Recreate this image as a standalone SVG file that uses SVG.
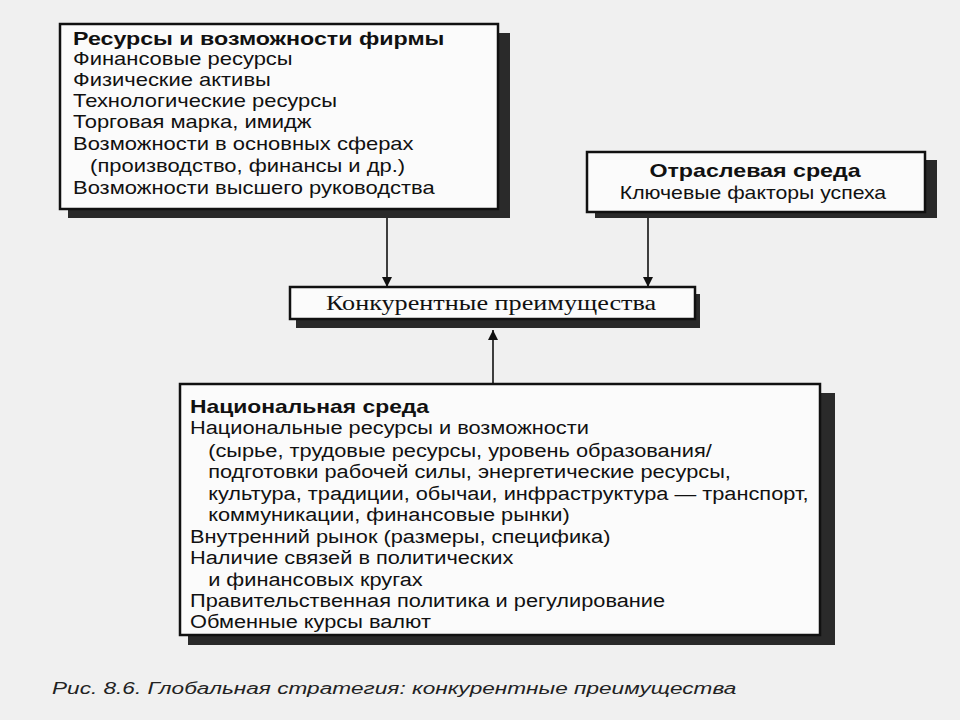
<svg xmlns="http://www.w3.org/2000/svg" width="960" height="720" viewBox="0 0 960 720">
<defs>
<style>
.bg{fill:#f0f0f0}
.shadow{fill:#2a2a2a}
.box{fill:#fbfbfb;stroke:#111;stroke-width:2.5}
.t{font-family:"Liberation Sans",Arial,sans-serif;font-size:18px;fill:#111}
.b{font-weight:bold}
.serif{font-family:"Liberation Serif","Times New Roman",serif;font-size:20px;fill:#111}
.cap{font-family:"Liberation Sans",Arial,sans-serif;font-size:17px;font-style:italic;fill:#222}
.conn{stroke:#111;stroke-width:1.6;fill:none}
</style>
<marker id="ah" viewBox="0 0 10 10" refX="10" refY="5" markerWidth="10" markerHeight="10" markerUnits="userSpaceOnUse" orient="auto">
<path d="M0,0 L10,5 L0,10 z" fill="#111"/>
</marker>
</defs>
<rect class="bg" x="0" y="0" width="960" height="720"/>
<g id="connectors">
<line class="conn" x1="387" y1="211" x2="387" y2="287" marker-end="url(#ah)"/>
<line class="conn" x1="648" y1="214" x2="648" y2="287" marker-end="url(#ah)"/>
<line class="conn" x1="493" y1="384" x2="493" y2="330" marker-end="url(#ah)"/>
</g>
<g id="node-firm">
<rect class="shadow" x="68" y="33" width="442" height="185"/>
<rect class="box" x="60" y="24" width="438" height="185"/>
<g transform="translate(73,0) scale(1.29,1)">
<text class="t b" x="0" y="45">Ресурсы и возможности фирмы</text>
</g>
<g transform="translate(73,0) scale(1.22,1)">
<text class="t" x="0" y="65">Финансовые ресурсы</text>
<text class="t" x="0" y="86">Физические активы</text>
<text class="t" x="0" y="107">Технологические ресурсы</text>
<text class="t" x="0" y="128">Торговая марка, имидж</text>
<text class="t" x="0" y="150">Возможности в основных сферах</text>
<text class="t" x="14" y="172">(производство, финансы и др.)</text>
<text class="t" x="0" y="194">Возможности высшего руководства</text>
</g>
</g>
<g id="node-industry">
<rect class="shadow" x="595" y="160" width="342" height="58"/>
<rect class="box" x="587" y="152" width="338" height="60"/>
<g transform="translate(755,0) scale(1.29,1)">
<text class="t b" x="0" y="177" text-anchor="middle">Отраслевая среда</text>
</g>
<g transform="translate(753,0) scale(1.18,1)">
<text class="t" x="0" y="199" text-anchor="middle">Ключевые факторы успеха</text>
</g>
</g>
<g id="node-advantage">
<rect class="shadow" x="296" y="294" width="404" height="34"/>
<rect class="box" x="290" y="287" width="405" height="32"/>
<g transform="translate(491,0) scale(1.31,1)">
<text class="serif" x="0" y="310" text-anchor="middle">Конкурентные преимущества</text>
</g>
</g>
<g id="node-national">
<rect class="shadow" x="188" y="393" width="647" height="252"/>
<rect class="box" x="180" y="384" width="640" height="251"/>
<g transform="translate(190,0) scale(1.27,1)">
<text class="t b" x="0" y="413">Национальная среда</text>
</g>
<g transform="translate(190,0) scale(1.21,1)">
<text class="t" x="0" y="434">Национальные ресурсы и возможности</text>
<text class="t" x="15" y="457">(сырье, трудовые ресурсы, уровень образования/</text>
<text class="t" x="15" y="478">подготовки рабочей силы, энергетические ресурсы,</text>
<text class="t" x="15" y="500">культура, традиции, обычаи, инфраструктура — транспорт,</text>
<text class="t" x="15" y="521">коммуникации, финансовые рынки)</text>
<text class="t" x="0" y="543">Внутренний рынок (размеры, специфика)</text>
<text class="t" x="0" y="564">Наличие связей в политических</text>
<text class="t" x="15" y="586">и финансовых кругах</text>
<text class="t" x="0" y="607">Правительственная политика и регулирование</text>
<text class="t" x="0" y="628">Обменные курсы валют</text>
</g>
</g>
<g transform="translate(52,0) scale(1.33,1)">
<text class="cap" x="0" y="694">Рис. 8.6. Глобальная стратегия: конкурентные преимущества</text>
</g>
</svg>
